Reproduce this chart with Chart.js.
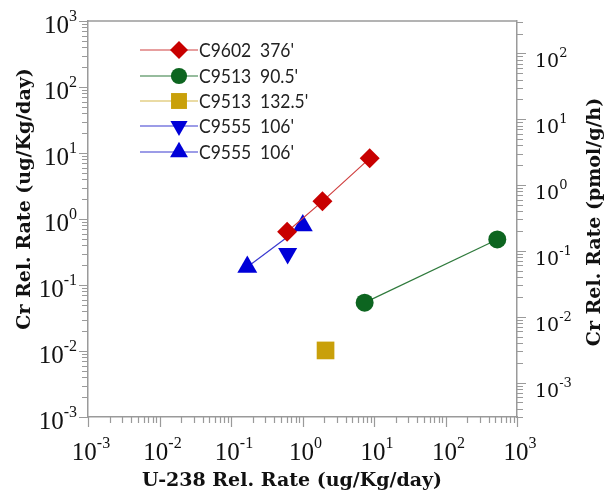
<!DOCTYPE html>
<html>
<head>
<meta charset="utf-8">
<script src="https://cdn.jsdelivr.net/npm/chart.js@4.4.0/dist/chart.umd.min.js"></script>
<style>
  html, body { margin: 0; padding: 0; background: #fff; }
</style>
</head>
<body>
<canvas id="g-cr-u238" width="609" height="501"></canvas>
<script>
// U-238 vs Cr relative rates, log-log
var sampleNames = ['C9602', 'C9513', 'C9513', 'C9555', 'C9555'];
var sampleDepths = ["376'", "90.5'", "132.5'", "106'", "106'"];

var c9602_u = [0.61, 1.9, 8.7];
var c9602_cr = [0.64, 1.85, 8.3];
var c9513a_u = [7.4, 530];
var c9513a_cr = [0.054, 0.49];
var c9513b_u = [2.1];
var c9513b_cr = [0.0102];
var c9555a_u = [0.62];
var c9555a_cr = [0.30];
var c9555b_u = [0.169, 1.01];
var c9555b_cr = [0.187, 0.80];

var axisMin = 1e-3, axisMax = 1e3;
var crToPmol = 0.31;   // ug/Kg/day -> pmol/g/h on right axis

var xTitle = 'U-238 Rel. Rate (ug/Kg/day)';
var yTitle = 'Cr Rel. Rate (ug/Kg/day)';
var y2Title = 'Cr Rel. Rate (pmol/g/h)';

function pts(xs, ys) {
  return xs.map(function (x, i) { return { x: x, y: ys[i] }; });
}

var series = [
  { data: pts(c9602_u, c9602_cr), color: '#c80000', line: '#d04040', style: 'rectRot', r: 10, rot: 0, showLine: true },
  { data: pts(c9513a_u, c9513a_cr), color: '#0d6520', line: '#2f7a3c', style: 'circle', r: 9, rot: 0, showLine: true },
  { data: pts(c9513b_u, c9513b_cr), color: '#c9a00a', line: '#d6b84a', style: 'rect', r: 12.5, rot: 0, showLine: false },
  { data: pts(c9555a_u, c9555a_cr), color: '#0000d8', line: '#3a3ad0', style: 'triangle', r: 11, rot: 180, showLine: false },
  { data: pts(c9555b_u, c9555b_cr), color: '#0000d8', line: '#3a3ad0', style: 'triangle', r: 11.5, rot: 0, showLine: true }
];

var axisGray = '#9a9a9a';

function logTicks(min, max) {
  var out = [];
  var e0 = Math.floor(Math.log10(min) + 1e-9), e1 = Math.ceil(Math.log10(max) - 1e-9);
  for (var e = e0; e <= e1; e++) {
    for (var m = 1; m <= 9; m++) {
      var v = m * Math.pow(10, e);
      if (v >= min * 0.999 && v <= max * 1.001) out.push({ v: v, major: m === 1, e: e });
    }
  }
  return out;
}

function powerLabel(ctx, x, y, exp, align, baseFont, supFont, rise) {
  var sup = String(exp);
  ctx.font = baseFont; var w1 = ctx.measureText('10').width;
  ctx.font = supFont; var w2 = ctx.measureText(sup).width;
  var x0 = align === 'right' ? x - w1 - w2 : (align === 'center' ? x - (w1 + w2) / 2 : x);
  ctx.textAlign = 'left';
  ctx.textBaseline = 'alphabetic';
  ctx.font = baseFont; ctx.fillText('10', x0, y);
  ctx.font = supFont; ctx.fillText(sup, x0 + w1, y - rise);
}

// narrow-ish legend text
function squeezedText(ctx, text, x, y) {
  ctx.save();
  ctx.translate(x, y);
  ctx.scale(0.92, 1);
  ctx.fillText(text, 0, 0);
  ctx.restore();
}

var axesAndLegend = {
  id: 'axesAndLegend',
  afterDraw: function (chart) {
    var ctx = chart.ctx, a = chart.chartArea;
    var sx = chart.scales.x, sy = chart.scales.y, sy2 = chart.scales.y2;
    ctx.save();

    // top frame line
    ctx.strokeStyle = axisGray;
    ctx.lineWidth = 1.5;
    ctx.beginPath(); ctx.moveTo(a.left, a.top); ctx.lineTo(a.right, a.top); ctx.stroke();

    // tick marks
    ctx.lineWidth = 1.2;
    ctx.beginPath();
    logTicks(sx.min, sx.max).forEach(function (t) {
      var p = Math.round(sx.getPixelForValue(t.v)) + 0.5;
      ctx.moveTo(p, a.bottom); ctx.lineTo(p, a.bottom + (t.major ? 10 : 6));
    });
    logTicks(sy.min, sy.max).forEach(function (t) {
      var p = Math.round(sy.getPixelForValue(t.v)) + 0.5;
      ctx.moveTo(a.left, p); ctx.lineTo(a.left - (t.major ? 9 : 6), p);
    });
    logTicks(sy2.min, sy2.max).forEach(function (t) {
      var p = Math.round(sy2.getPixelForValue(t.v)) + 0.5;
      ctx.moveTo(a.right, p); ctx.lineTo(a.right + (t.major ? 9 : 6), p);
    });
    ctx.stroke();

    // decade labels
    ctx.fillStyle = '#111';
    logTicks(sx.min, sx.max).forEach(function (t) {
      if (!t.major) return;
      powerLabel(ctx, sx.getPixelForValue(t.v) + 3, a.bottom + 43, t.e, 'center',
        '25px "Liberation Serif"', '16px "Liberation Serif"', 12);
    });
    logTicks(sy.min, sy.max).forEach(function (t) {
      if (!t.major) return;
      powerLabel(ctx, a.left - 11, sy.getPixelForValue(t.v) + 11.5, t.e, 'right',
        '25px "Liberation Serif"', '16px "Liberation Serif"', 11.5);
    });
    logTicks(sy2.min, sy2.max).forEach(function (t) {
      if (!t.major) return;
      powerLabel(ctx, a.right + 18, sy2.getPixelForValue(t.v) + 14, t.e, 'left',
        '19px "DejaVu Serif"', '13px "DejaVu Serif"', 10);
    });

    // axis titles, both vertical ones read bottom to top
    ctx.font = 'bold 19px "DejaVu Serif"';
    ctx.textAlign = 'center';
    ctx.textBaseline = 'middle';
    ctx.fillText(xTitle, 292, 481);
    ctx.save();
    ctx.translate(25, 199); ctx.rotate(-Math.PI / 2);
    ctx.fillText(yTitle, 0, 0);
    ctx.restore();
    ctx.save();
    ctx.translate(595, 222); ctx.rotate(-Math.PI / 2);
    ctx.fillText(y2Title, 0, 0);
    ctx.restore();

    // legend: line, marker, sample name, depth
    var rowY = [50, 76, 101, 126, 152];
    series.forEach(function (s, i) {
      var y = rowY[i];
      ctx.strokeStyle = s.line;
      ctx.lineWidth = 1.2;
      ctx.beginPath(); ctx.moveTo(140, y); ctx.lineTo(198, y); ctx.stroke();
      ctx.fillStyle = s.color;
      ctx.strokeStyle = s.color;
      Chart.helpers.drawPoint(ctx, { pointStyle: s.style, radius: s.r * 0.9, rotation: s.rot, borderWidth: 0 }, 179, y);
      ctx.fillStyle = '#222';
      ctx.font = '19px Lato';
      ctx.textAlign = 'left';
      ctx.textBaseline = 'middle';
      squeezedText(ctx, sampleNames[i], 199, y + 1);
      squeezedText(ctx, sampleDepths[i], 260, y + 1);
    });

    ctx.restore();
  }
};

var idhtml = document.getElementById('g-cr-u238').getContext('2d');
var g_loglog = new Chart(idhtml, {
  type: 'scatter',
  data: {
    datasets: series.map(function (s, i) {
      return {
        label: sampleNames[i] + ' ' + sampleDepths[i],
        data: s.data,
        showLine: s.showLine,
        borderColor: s.line,
        borderWidth: 1.2,
        backgroundColor: s.color,
        pointBackgroundColor: s.color,
        pointBorderColor: s.color,
        pointBorderWidth: 0,
        pointStyle: s.style,
        pointRadius: s.r,
        pointRotation: s.rot,
        xAxisID: 'x',
        yAxisID: 'y'
      };
    })
  },
  options: {
    responsive: false,
    animation: false,
    clip: false,
    layout: { padding: { top: 21, left: 0, right: 0, bottom: 0 } },
    plugins: { legend: { display: false }, tooltip: { enabled: false } },
    scales: {
      x: {
        type: 'logarithmic', position: 'bottom', min: axisMin, max: axisMax,
        grid: { display: false }, ticks: { display: false },
        border: { display: true, color: axisGray, width: 1.5 },
        afterFit: function (s) { s.height = 84; }
      },
      y: {
        type: 'logarithmic', position: 'left', min: axisMin, max: axisMax,
        grid: { display: false }, ticks: { display: false },
        border: { display: true, color: axisGray, width: 1.5 },
        afterFit: function (s) { s.width = 88; }
      },
      y2: {
        type: 'logarithmic', position: 'right', min: axisMin * crToPmol, max: axisMax * crToPmol,
        grid: { display: false }, ticks: { display: false },
        border: { display: true, color: axisGray, width: 1.5 },
        afterFit: function (s) { s.width = 92; }
      }
    }
  },
  plugins: [axesAndLegend]
});
</script>
</body>
</html>
